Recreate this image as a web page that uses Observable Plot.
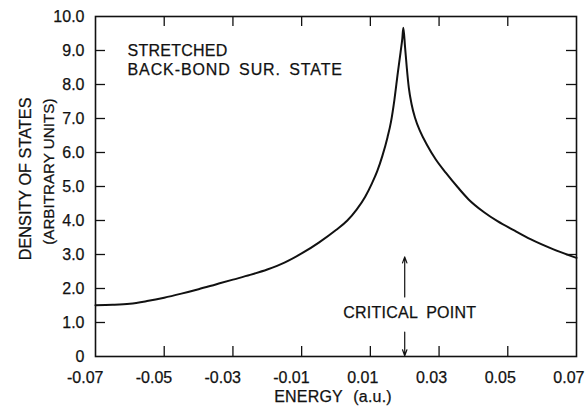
<!DOCTYPE html>
<html>
<head>
<meta charset="utf-8">
<script src="https://cdn.jsdelivr.net/npm/d3@7"></script>
<script src="https://cdn.jsdelivr.net/npm/@observablehq/plot@0.6"></script>
<style>
  html, body { margin: 0; padding: 0; background: #fff; }
  svg { font-family: "Liberation Sans", Arial, Helvetica, sans-serif; }
</style>
</head>
<body>
<div id="chart"></div>
<script>
// ---- data ----
const energy = [-0.07, -0.065, -0.06, -0.055, -0.05, -0.045, -0.04, -0.035, -0.03, -0.025,
  -0.02, -0.015, -0.01, -0.005, 0.0, 0.0033, 0.006, 0.0085, 0.0105, 0.012, 0.0135, 0.015,
  0.016, 0.017, 0.018, 0.0188, 0.0193, 0.0196,
  0.0201, 0.0206, 0.0212, 0.022, 0.023, 0.0245, 0.0265, 0.029, 0.032, 0.0355, 0.0386,
  0.043, 0.047, 0.052, 0.0566, 0.0633, 0.07];
const density = [1.51, 1.52, 1.55, 1.63, 1.73, 1.85, 1.98, 2.12, 2.26, 2.40,
  2.56, 2.76, 3.03, 3.35, 3.72, 4.0, 4.32, 4.7, 5.1, 5.45, 5.9, 6.45,
  6.9, 7.55, 8.35, 8.95, 9.35, 9.67,
  9.1, 8.5, 7.9, 7.42, 7.02, 6.62, 6.22, 5.8, 5.4, 4.97, 4.62,
  4.25, 3.98, 3.7, 3.45, 3.15, 2.9];

const xTicks = [-0.07, -0.05, -0.03, -0.01, 0.01, 0.03, 0.05, 0.07];
const xTickLabels = ["-0.07", "-0.05", "-0.03", "-0.01", "0.01", "0.03", "0.05", "0.07"];
const yTicks = [0, 1, 2, 3, 4, 5, 6, 7, 8, 9, 10];
const yTickLabels = ["0", "1.0", "2.0", "3.0", "4.0", "5.0", "6.0", "7.0", "8.0", "9.0", "10.0"];

const titleLines = ["STRETCHED", "BACK-BOND SUR. STATE"];
const xTitle = "ENERGY (a.u.)";
const yTitleLines = ["DENSITY OF STATES", "(ARBITRARY UNITS)"];
const criticalLabel = "CRITICAL POINT";
const criticalEnergy = 0.02;

// ---- build ----
const curve = energy.map((e, i) => ({e, d: density[i]}));
const xDom = [-0.07, 0.07], yDom = [0, 10];
const W = 586, H = 408, mL = 95, mR = 10, mT = 16, mB = 52;
const xPerPx = (xDom[1] - xDom[0]) / (W - mL - mR);
const yPerPx = (yDom[1] - yDom[0]) / (H - mT - mB);
const tickLen = 10;
const innerX = xTicks.slice(1, -1);
const innerY = yTicks.slice(1, -1);
const ink = "#111";
const txt = {fill: ink, stroke: ink, strokeWidth: 0.25, fontSize: 16};

const chart = Plot.plot({
  width: W, height: H,
  marginLeft: mL, marginRight: mR, marginTop: mT, marginBottom: mB,
  x: {domain: xDom, axis: null},
  y: {domain: yDom, axis: null},
  style: {fontFamily: "'Liberation Sans', Arial, Helvetica, sans-serif", color: ink, background: "#fff"},
  marks: [
    Plot.frame({stroke: ink, strokeWidth: 1.6}),
    // inward ticks: bottom & top
    Plot.ruleX(innerX, {x: d => d, y1: yDom[0], y2: yDom[0] + tickLen * yPerPx, stroke: ink, strokeWidth: 1.3}),
    Plot.ruleX(innerX, {x: d => d, y1: yDom[1], y2: yDom[1] - tickLen * yPerPx, stroke: ink, strokeWidth: 1.3}),
    // inward ticks: left & right
    Plot.ruleY(innerY, {y: d => d, x1: xDom[0], x2: xDom[0] + tickLen * xPerPx, stroke: ink, strokeWidth: 1.3}),
    Plot.ruleY(innerY, {y: d => d, x1: xDom[1], x2: xDom[1] - tickLen * xPerPx, stroke: ink, strokeWidth: 1.3}),
    // tick labels
    Plot.text(xTicks, {x: d => d, y: yDom[0], text: (d, i) => xTickLabels[i], dy: 21, dx: 8,
      textAnchor: "end", ...txt}),
    Plot.text(yTicks, {x: xDom[0], y: d => d, text: (d, i) => yTickLabels[i], dx: -11,
      textAnchor: "end", ...txt}),
    // curve
    Plot.line(curve, {x: "e", y: "d", stroke: ink, strokeWidth: 2, curve: "monotone-x"}),
    // inset title
    Plot.text([titleLines[0]], {frameAnchor: "top-left", dx: 32, dy: 28, textAnchor: "start", ...txt}),
    Plot.text([titleLines[1]], {frameAnchor: "top-left", dx: 32, dy: 47.5, textAnchor: "start", ...txt}),
    // critical point annotation
    Plot.arrow([criticalEnergy], {x1: d => d, x2: d => d, y1: 1.75, y2: 2.93, stroke: ink,
      strokeWidth: 1.2, headLength: 8, headAngle: 40}),
    Plot.arrow([criticalEnergy], {x1: d => d, x2: d => d, y1: 0.72, y2: 0.02, stroke: ink,
      strokeWidth: 1.2, headLength: 8, headAngle: 40}),
    Plot.text([criticalLabel], {x: criticalEnergy, y: 1.27, dx: 5, textAnchor: "middle", ...txt}),
    // axis titles
    Plot.text([xTitle], {frameAnchor: "bottom", dx: -3, dy: 45, textAnchor: "middle", ...txt}),
    Plot.text([yTitleLines[0]], {frameAnchor: "top-left", dx: -76.5, dy: 81, rotate: -90,
      textAnchor: "end", ...txt, fontSize: 16.3}),
    Plot.text([yTitleLines[1]], {frameAnchor: "top-left", dx: -52.5, dy: 82, rotate: -90,
      textAnchor: "end", ...txt, fontSize: 15.2})
  ]
});
// letter / word spacing tweaks for the wide hand-lettered look
d3.select(chart).selectAll("text").each(function() {
  const t = this.textContent;
  const set = (ls, ws) => { this.setAttribute("letter-spacing", ls); this.setAttribute("word-spacing", ws); };
  if (t === titleLines[0]) set("0.25", "0");
  if (t === titleLines[1]) set("0.9", "3");
  if (t === criticalLabel) set("0.25", "4");
  if (t === xTitle) set("0.2", "6");
});
document.getElementById("chart").appendChild(chart);
</script>
</body>
</html>
